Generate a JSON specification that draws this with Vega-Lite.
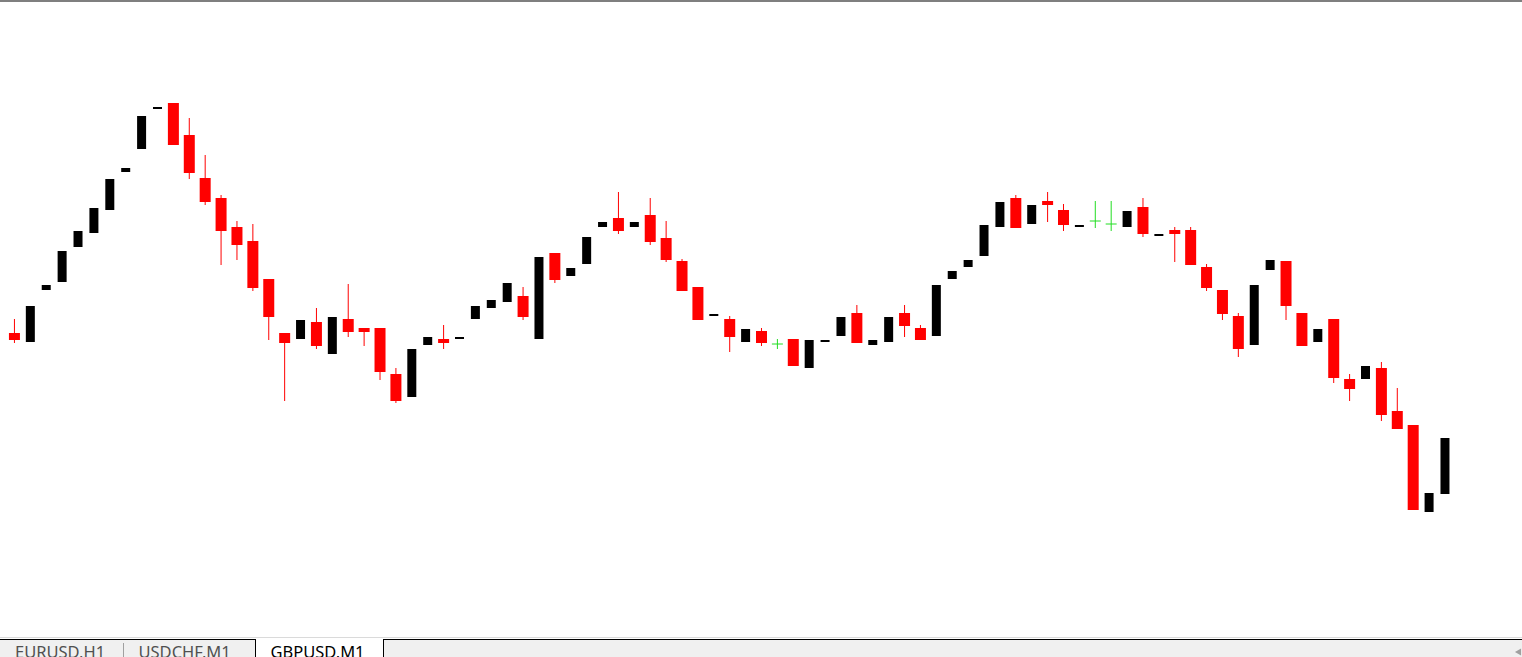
{
  "$schema": "https://vega.github.io/schema/vega-lite/v6.json",
  "width": 1522,
  "height": 657,
  "padding": 0,
  "autosize": {"type": "none"},
  "background": "white",
  "config": {"view": {"stroke": null}},
  "datasets": {
    "candles": [
      {"i":0,"open":1.27267,"high":1.27281,"low":1.27257,"close":1.27260},
      {"i":1,"open":1.27258,"high":1.27294,"low":1.27258,"close":1.27294},
      {"i":2,"open":1.27310,"high":1.27315,"low":1.27310,"close":1.27315},
      {"i":3,"open":1.27318,"high":1.27349,"low":1.27318,"close":1.27349},
      {"i":4,"open":1.27353,"high":1.27369,"low":1.27353,"close":1.27369},
      {"i":5,"open":1.27367,"high":1.27392,"low":1.27367,"close":1.27392},
      {"i":6,"open":1.27390,"high":1.27421,"low":1.27390,"close":1.27421},
      {"i":7,"open":1.27428,"high":1.27432,"low":1.27428,"close":1.27432},
      {"i":8,"open":1.27451,"high":1.27484,"low":1.27451,"close":1.27484},
      {"i":9,"open":1.27491,"high":1.27493,"low":1.27491,"close":1.27493},
      {"i":10,"open":1.27497,"high":1.27497,"low":1.27455,"close":1.27455},
      {"i":11,"open":1.27465,"high":1.27482,"low":1.27421,"close":1.27427},
      {"i":12,"open":1.27422,"high":1.27445,"low":1.27395,"close":1.27398},
      {"i":13,"open":1.27402,"high":1.27405,"low":1.27335,"close":1.27369},
      {"i":14,"open":1.27373,"high":1.27379,"low":1.27340,"close":1.27355},
      {"i":15,"open":1.27359,"high":1.27376,"low":1.27309,"close":1.27312},
      {"i":16,"open":1.27321,"high":1.27321,"low":1.27260,"close":1.27283},
      {"i":17,"open":1.27267,"high":1.27267,"low":1.27199,"close":1.27257},
      {"i":18,"open":1.27261,"high":1.27280,"low":1.27261,"close":1.27280},
      {"i":19,"open":1.27278,"high":1.27292,"low":1.27251,"close":1.27254},
      {"i":20,"open":1.27246,"high":1.27283,"low":1.27246,"close":1.27283},
      {"i":21,"open":1.27281,"high":1.27316,"low":1.27263,"close":1.27268},
      {"i":22,"open":1.27272,"high":1.27272,"low":1.27254,"close":1.27268},
      {"i":23,"open":1.27272,"high":1.27272,"low":1.27220,"close":1.27228},
      {"i":24,"open":1.27226,"high":1.27232,"low":1.27197,"close":1.27199},
      {"i":25,"open":1.27203,"high":1.27251,"low":1.27203,"close":1.27251},
      {"i":26,"open":1.27255,"high":1.27263,"low":1.27255,"close":1.27263},
      {"i":27,"open":1.27261,"high":1.27275,"low":1.27251,"close":1.27257},
      {"i":28,"open":1.27261,"high":1.27263,"low":1.27261,"close":1.27263},
      {"i":29,"open":1.27281,"high":1.27294,"low":1.27281,"close":1.27294},
      {"i":30,"open":1.27292,"high":1.27300,"low":1.27292,"close":1.27300},
      {"i":31,"open":1.27298,"high":1.27317,"low":1.27298,"close":1.27317},
      {"i":32,"open":1.27304,"high":1.27313,"low":1.27280,"close":1.27283},
      {"i":33,"open":1.27261,"high":1.27343,"low":1.27261,"close":1.27343},
      {"i":34,"open":1.27347,"high":1.27347,"low":1.27317,"close":1.27320},
      {"i":35,"open":1.27324,"high":1.27332,"low":1.27324,"close":1.27332},
      {"i":36,"open":1.27336,"high":1.27363,"low":1.27336,"close":1.27363},
      {"i":37,"open":1.27373,"high":1.27378,"low":1.27373,"close":1.27378},
      {"i":38,"open":1.27382,"high":1.27408,"low":1.27366,"close":1.27369},
      {"i":39,"open":1.27373,"high":1.27378,"low":1.27373,"close":1.27378},
      {"i":40,"open":1.27385,"high":1.27402,"low":1.27355,"close":1.27358},
      {"i":41,"open":1.27362,"high":1.27379,"low":1.27338,"close":1.27340},
      {"i":42,"open":1.27339,"high":1.27341,"low":1.27309,"close":1.27309},
      {"i":43,"open":1.27313,"high":1.27313,"low":1.27280,"close":1.27280},
      {"i":44,"open":1.27284,"high":1.27286,"low":1.27284,"close":1.27286},
      {"i":45,"open":1.27281,"high":1.27284,"low":1.27248,"close":1.27263},
      {"i":46,"open":1.27258,"high":1.27271,"low":1.27258,"close":1.27271},
      {"i":47,"open":1.27269,"high":1.27272,"low":1.27254,"close":1.27257},
      {"i":48,"open":1.27256,"high":1.27261,"low":1.27251,"close":1.27256},
      {"i":49,"open":1.27261,"high":1.27261,"low":1.27234,"close":1.27234},
      {"i":50,"open":1.27232,"high":1.27260,"low":1.27232,"close":1.27260},
      {"i":51,"open":1.27258,"high":1.27260,"low":1.27258,"close":1.27260},
      {"i":52,"open":1.27264,"high":1.27283,"low":1.27264,"close":1.27283},
      {"i":53,"open":1.27287,"high":1.27295,"low":1.27257,"close":1.27257},
      {"i":54,"open":1.27255,"high":1.27260,"low":1.27255,"close":1.27260},
      {"i":55,"open":1.27258,"high":1.27283,"low":1.27258,"close":1.27283},
      {"i":56,"open":1.27287,"high":1.27295,"low":1.27263,"close":1.27274},
      {"i":57,"open":1.27272,"high":1.27275,"low":1.27260,"close":1.27260},
      {"i":58,"open":1.27264,"high":1.27315,"low":1.27264,"close":1.27315},
      {"i":59,"open":1.27321,"high":1.27329,"low":1.27321,"close":1.27329},
      {"i":60,"open":1.27333,"high":1.27340,"low":1.27333,"close":1.27340},
      {"i":61,"open":1.27344,"high":1.27375,"low":1.27344,"close":1.27375},
      {"i":62,"open":1.27373,"high":1.27398,"low":1.27373,"close":1.27398},
      {"i":63,"open":1.27402,"high":1.27405,"low":1.27372,"close":1.27372},
      {"i":64,"open":1.27376,"high":1.27395,"low":1.27376,"close":1.27395},
      {"i":65,"open":1.27399,"high":1.27408,"low":1.27378,"close":1.27395},
      {"i":66,"open":1.27390,"high":1.27396,"low":1.27369,"close":1.27375},
      {"i":67,"open":1.27373,"high":1.27375,"low":1.27373,"close":1.27375},
      {"i":68,"open":1.27379,"high":1.27399,"low":1.27372,"close":1.27379},
      {"i":69,"open":1.27376,"high":1.27399,"low":1.27369,"close":1.27376},
      {"i":70,"open":1.27373,"high":1.27389,"low":1.27373,"close":1.27389},
      {"i":71,"open":1.27393,"high":1.27402,"low":1.27363,"close":1.27366},
      {"i":72,"open":1.27364,"high":1.27366,"low":1.27364,"close":1.27366},
      {"i":73,"open":1.27370,"high":1.27373,"low":1.27338,"close":1.27366},
      {"i":74,"open":1.27370,"high":1.27373,"low":1.27335,"close":1.27335},
      {"i":75,"open":1.27333,"high":1.27336,"low":1.27309,"close":1.27312},
      {"i":76,"open":1.27310,"high":1.27310,"low":1.27280,"close":1.27286},
      {"i":77,"open":1.27284,"high":1.27287,"low":1.27243,"close":1.27251},
      {"i":78,"open":1.27255,"high":1.27315,"low":1.27255,"close":1.27315},
      {"i":79,"open":1.27330,"high":1.27340,"low":1.27330,"close":1.27340},
      {"i":80,"open":1.27339,"high":1.27339,"low":1.27280,"close":1.27294},
      {"i":81,"open":1.27287,"high":1.27287,"low":1.27254,"close":1.27254},
      {"i":82,"open":1.27258,"high":1.27271,"low":1.27258,"close":1.27271},
      {"i":83,"open":1.27281,"high":1.27281,"low":1.27217,"close":1.27222},
      {"i":84,"open":1.27221,"high":1.27226,"low":1.27199,"close":1.27211},
      {"i":85,"open":1.27221,"high":1.27234,"low":1.27221,"close":1.27234},
      {"i":86,"open":1.27232,"high":1.27238,"low":1.27179,"close":1.27185},
      {"i":87,"open":1.27189,"high":1.27212,"low":1.27171,"close":1.27171},
      {"i":88,"open":1.27175,"high":1.27175,"low":1.27090,"close":1.27090},
      {"i":89,"open":1.27088,"high":1.27107,"low":1.27088,"close":1.27107},
      {"i":90,"open":1.27106,"high":1.27162,"low":1.27106,"close":1.27162}
    ],
    "tabs": [
      {"label": "EURUSD,H1", "start": 0, "end": 123.5, "active": false},
      {"label": "USDCHF,M1", "start": 123.5, "end": 255.5, "active": false},
      {"label": "GBPUSD,M1", "start": 255.5, "end": 383.5, "active": true}
    ]
  },
  "layer": [
    {
      "data": {"name": "candles"},
      "layer": [
        {
          "transform": [{"filter": "datum.close < datum.open"}],
          "mark": {"type": "rule", "color": "#ff0000", "strokeWidth": 1},
          "encoding": {
            "x": {"field": "i", "type": "quantitative", "scale": {"domain": [-0.59375, 94.53125], "nice": false, "zero": false}, "axis": null},
            "y": {"field": "low", "type": "quantitative", "scale": {"domain": [1.26943, 1.276], "nice": false, "zero": false}, "axis": null},
            "y2": {"field": "high"}
          }
        },
        {
          "transform": [{"filter": "datum.close < datum.open"}],
          "mark": {"type": "bar", "color": "#ff0000", "width": 11, "orient": "vertical"},
          "encoding": {
            "x": {"field": "i", "type": "quantitative", "axis": null},
            "y": {"field": "open", "type": "quantitative", "axis": null},
            "y2": {"field": "close"}
          }
        },
        {
          "transform": [{"filter": "datum.close > datum.open"}],
          "mark": {"type": "bar", "color": "#000000", "width": 9, "orient": "vertical"},
          "encoding": {
            "x": {"field": "i", "type": "quantitative", "axis": null},
            "y": {"field": "open", "type": "quantitative", "axis": null},
            "y2": {"field": "close"}
          }
        },
        {
          "transform": [{"filter": "datum.close == datum.open"}],
          "mark": {"type": "rule", "color": "#22dd22", "strokeWidth": 1},
          "encoding": {
            "x": {"field": "i", "type": "quantitative", "axis": null},
            "y": {"field": "low", "type": "quantitative", "axis": null},
            "y2": {"field": "high"}
          }
        },
        {
          "transform": [{"filter": "datum.close == datum.open"}],
          "mark": {"type": "rule", "color": "#22dd22", "strokeWidth": 1, "xOffset": -5.5, "x2Offset": 5.5},
          "encoding": {
            "x": {"field": "i", "type": "quantitative", "axis": null},
            "x2": {"field": "i"},
            "y": {"field": "close", "type": "quantitative", "axis": null}
          }
        }
      ]
    },
    {
      "layer": [
        {
          "data": {"values": [{}]},
          "mark": {"type": "rect", "color": "#f0f0f0"},
          "encoding": {
            "x": {"datum": 0, "type": "quantitative", "scale": {"domain": [0, 1522], "nice": false, "zero": false}, "axis": null},
            "x2": {"datum": 1522},
            "y": {"datum": 639, "type": "quantitative", "scale": {"domain": [0, 657], "reverse": true, "nice": false, "zero": false}, "axis": null},
            "y2": {"datum": 657}
          }
        },
        {
          "data": {"values": [{}]},
          "mark": {"type": "rule", "color": "#7f7f7f", "strokeWidth": 2},
          "encoding": {
            "x": {"datum": 0, "type": "quantitative", "axis": null},
            "x2": {"datum": 1522},
            "y": {"datum": 1, "type": "quantitative", "axis": null}
          }
        },
        {
          "data": {"values": [{}]},
          "mark": {"type": "rule", "color": "#dadada", "strokeWidth": 1},
          "encoding": {
            "x": {"datum": 0, "type": "quantitative", "axis": null},
            "x2": {"datum": 1522},
            "y": {"datum": 637.5, "type": "quantitative", "axis": null}
          }
        },
        {
          "data": {"values": [{}]},
          "mark": {"type": "rule", "color": "#000000", "strokeWidth": 1},
          "encoding": {
            "x": {"datum": 0, "type": "quantitative", "axis": null},
            "x2": {"datum": 1522},
            "y": {"datum": 639.5, "type": "quantitative", "axis": null}
          }
        },
        {
          "data": {"name": "tabs"},
          "transform": [{"filter": "datum.active"}],
          "mark": {"type": "rect", "color": "#ffffff", "x2Offset": -0.5, "xOffset": 0.5},
          "encoding": {
            "x": {"field": "start", "type": "quantitative", "axis": null},
            "x2": {"field": "end"},
            "y": {"datum": 639, "type": "quantitative", "axis": null},
            "y2": {"datum": 657}
          }
        },
        {
          "data": {"name": "tabs"},
          "transform": [{"filter": "datum.active"}],
          "mark": {"type": "rule", "color": "#000000", "strokeWidth": 1},
          "encoding": {
            "x": {"field": "start", "type": "quantitative", "axis": null},
            "y": {"datum": 639, "type": "quantitative", "axis": null},
            "y2": {"datum": 657}
          }
        },
        {
          "data": {"name": "tabs"},
          "transform": [{"filter": "datum.active"}],
          "mark": {"type": "rule", "color": "#000000", "strokeWidth": 1},
          "encoding": {
            "x": {"field": "end", "type": "quantitative", "axis": null},
            "y": {"datum": 639, "type": "quantitative", "axis": null},
            "y2": {"datum": 657}
          }
        },
        {
          "data": {"name": "tabs"},
          "transform": [{"filter": "datum.label == 'EURUSD,H1'"}],
          "mark": {"type": "rule", "color": "#a0a0a0", "strokeWidth": 1},
          "encoding": {
            "x": {"field": "end", "type": "quantitative", "axis": null},
            "y": {"datum": 643, "type": "quantitative", "axis": null},
            "y2": {"datum": 657}
          }
        },
        {
          "data": {"name": "tabs"},
          "mark": {"type": "text", "align": "left", "baseline": "alphabetic", "dx": 15, "font": "Noto Sans", "fontSize": 16.5},
          "encoding": {
            "x": {"field": "start", "type": "quantitative", "axis": null},
            "y": {"datum": 658, "type": "quantitative", "axis": null},
            "text": {"field": "label"},
            "color": {"condition": {"test": "datum.active", "value": "#000000"}, "value": "#505050"}
          }
        },
        {
          "data": {"values": [{}]},
          "mark": {"type": "point", "shape": "triangle-left", "filled": true, "color": "#a0a0a0", "size": 50, "opacity": 1},
          "encoding": {
            "x": {"datum": 1518, "type": "quantitative", "axis": null},
            "y": {"datum": 652, "type": "quantitative", "axis": null}
          }
        }
      ]
    }
  ],
  "resolve": {"scale": {"x": "independent", "y": "independent"}}
}
